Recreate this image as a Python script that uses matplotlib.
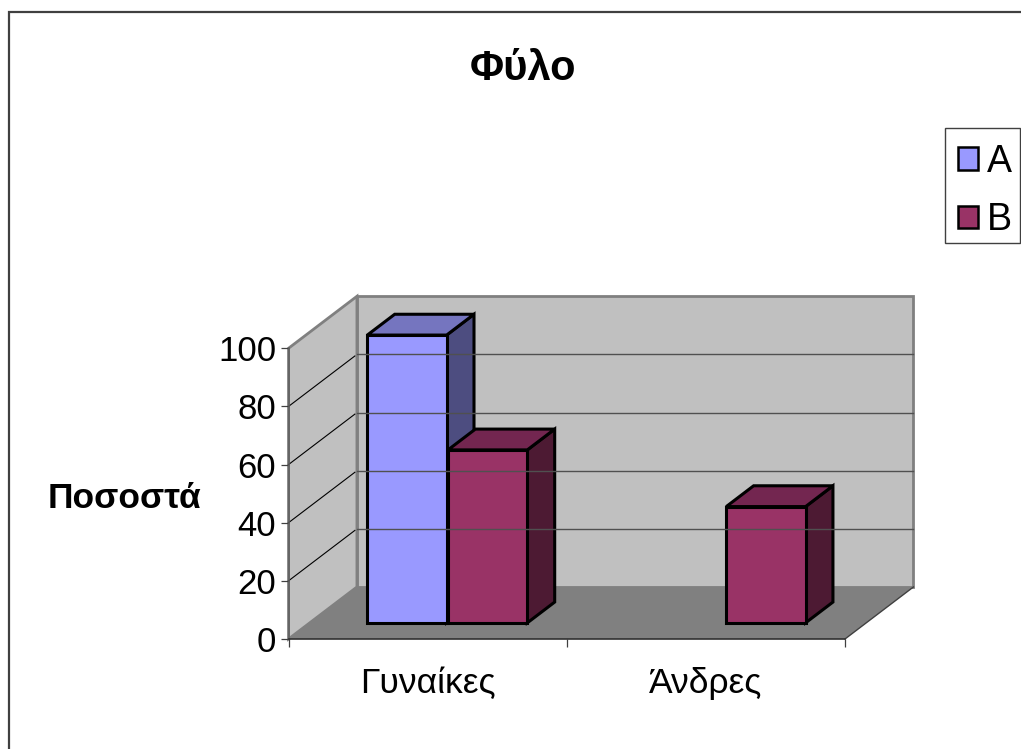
import matplotlib.pyplot as plt
from matplotlib.patches import Patch, Rectangle

plt.rcParams["font.family"] = ["Liberation Sans", "DejaVu Sans"]

categories = ["Γυναίκες", "Άνδρες"]
series_names = ["A", "B"]
values_a = [99, None]
values_b = [59.5, 40]
y_ticks = [0, 20, 40, 60, 80, 100]

title = "Φύλο"
y_label = "Ποσοστά"

# depth of the 3D box, in data units
DX = 0.246
DV = 17.9
# bar placement within a category and along the depth
BAR_START = 0.207
BAR_WIDTH = 0.285
DEPTH_FRONT = 0.31
DEPTH_BACK = 0.71

W, H = 1021, 749


def project(x, v, d=0.0):
    return x + d * DX, v + d * DV


def face(ax, corners, color, **kw):
    xs, ys = zip(*[project(*c) for c in corners])
    ax.fill(xs, ys, facecolor=color, clip_on=False, **kw)


def draw_bar(ax, x, value, front, top, side):
    x0, x1 = x, x + BAR_WIDTH
    d0, d1 = DEPTH_FRONT, DEPTH_BACK
    style = dict(edgecolor="k", linewidth=2.2, joinstyle="miter")
    face(ax, [(x1, 0, d0), (x1, 0, d1), (x1, value, d1), (x1, value, d0)], side, **style)
    face(ax, [(x0, value, d0), (x1, value, d0), (x1, value, d1), (x0, value, d1)], top, **style)
    face(ax, [(x0, 0, d0), (x1, 0, d0), (x1, value, d0), (x0, value, d0)], front, **style)


fig = plt.figure(figsize=(W / 100, H / 100), dpi=100)
ax = fig.add_axes([288.5 / W, (H - 639) / H, 556.5 / W, 290.7 / H])
ax.patch.set_visible(False)

# chart area border, running off the right and bottom edges
fig.add_artist(Rectangle((9 / W, -0.05), 1.1, 1.05 - 12 / H, transform=fig.transFigure,
                         facecolor="none", edgecolor="#404040", linewidth=1.6))

# walls and floor
x_max = len(categories)
wall = dict(edgecolor="#808080", linewidth=2.0)
face(ax, [(0, 0, 1), (x_max, 0, 1), (x_max, 100, 1), (0, 100, 1)], "#c0c0c0", **wall)
face(ax, [(0, 0, 0), (0, 0, 1), (0, 100, 1), (0, 100, 0)], "#c0c0c0", **wall)
face(ax, [(0, 0, 0), (x_max, 0, 0), (x_max, 0, 1), (0, 0, 1)], "#808080")

for v in y_ticks[1:-1]:
    ax.plot(*zip(project(0, v, 0), project(0, v, 0.97)), c="k", lw=0.8, clip_on=False)
    ax.plot(*zip(project(0, v, 1), project(x_max, v, 1)), c="#505050", lw=1.0, clip_on=False)
ax.plot(*zip(project(x_max, 0, 0), project(x_max, 0, 1)), c="#404040", lw=1.0, clip_on=False)

for i, (a, b) in enumerate(zip(values_a, values_b)):
    if a is not None:
        draw_bar(ax, i + BAR_START, a, "#9999ff", "#7575bf", "#4d4d80")
    if b is not None:
        draw_bar(ax, i + BAR_START + 0.29, b, "#993366", "#732650", "#4d1a33")

ax.set_xlim(0, x_max)
ax.set_ylim(0, 100)

for s in ["top", "right"]:
    ax.spines[s].set_visible(False)
ax.spines["left"].set_color("#606060")
ax.spines["bottom"].set_color("#303030")
ax.spines["left"].set_linewidth(1.2)
ax.spines["bottom"].set_linewidth(1.2)

ax.set_yticks(y_ticks)
ax.tick_params(axis="y", labelsize=25, length=6, width=0.9, pad=3, color="#404040")
ax.set_xticks(range(x_max + 1))
ax.set_xticklabels([])
ax.tick_params(axis="x", which="major", length=6, width=0.9, color="#404040")
ax.set_xticks([i + 0.5 for i in range(x_max)], categories, minor=True)
ax.tick_params(axis="x", which="minor", length=0, labelsize=25.5, pad=20)

ax.set_ylabel(y_label, rotation=0, fontsize=25.5, fontweight="bold", ha="center", va="center")
ax.yaxis.set_label_coords((125 - 288.5) / 556.5, (639 - 499) / 290.7)

fig.text(523 / W, 1 - 69 / H, title, fontsize=30, fontweight="bold", ha="center", va="center")

# legend box drawn separately so its height can be set independently of the entries
fig.add_artist(Rectangle((945 / W, 1 - 243 / H), 75 / W, 115 / H, transform=fig.transFigure,
                         facecolor="white", edgecolor="#404040", linewidth=1.0))
handles = [Patch(facecolor="#9999ff", edgecolor="k", linewidth=1.8),
           Patch(facecolor="#993366", edgecolor="k", linewidth=1.8)]
fig.legend(handles, series_names, loc="upper left", bbox_to_anchor=(942 / W, 1 - 128 / H),
           fontsize=27, frameon=False,
           handlelength=0.55, handleheight=0.55, handletextpad=0.22, labelspacing=0.6,
           borderaxespad=0, borderpad=0.42)

fig.savefig("out.png", dpi=100)
plt.close(fig)
